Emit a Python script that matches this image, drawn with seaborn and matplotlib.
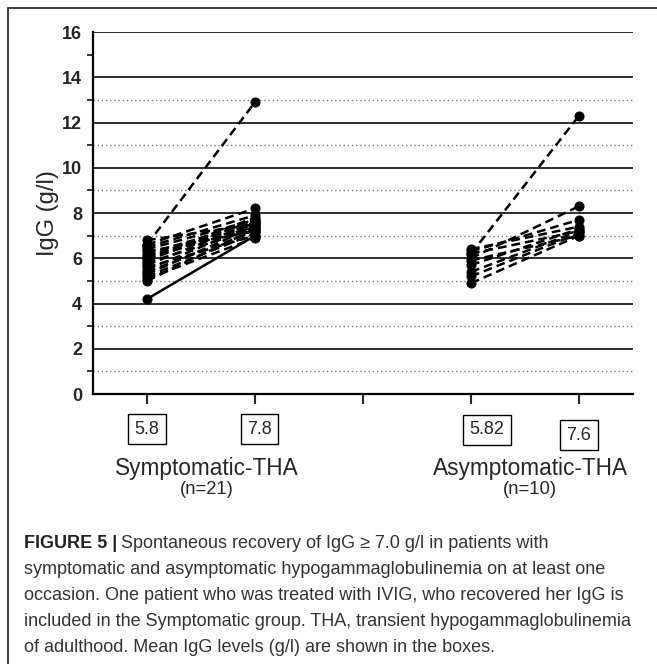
import numpy as np
import pandas as pd
import matplotlib
matplotlib.use("Agg")
import matplotlib.pyplot as plt
import matplotlib.transforms as mtransforms
import seaborn as sns

# IgG (g/l) at first and recovery visit, one pair per patient
sym_start = [4.2, 5.0, 5.1, 5.2, 5.3, 5.4, 5.5, 5.6, 5.7, 5.8, 5.9,
             6.0, 6.0, 6.1, 6.2, 6.3, 6.4, 6.5, 6.6, 6.8, 6.6]
sym_end = [7.0, 7.3, 6.9, 7.1, 7.4, 7.2, 7.5, 7.0, 7.6, 7.3, 7.7,
           7.4, 7.8, 7.5, 7.6, 7.2, 7.7, 7.9, 8.2, 7.5, 12.9]
asym_start = [4.9, 5.2, 5.4, 5.7, 5.9, 6.0, 6.2, 6.3, 6.4, 6.2]
asym_end = [7.0, 7.1, 7.2, 7.3, 7.0, 8.3, 7.2, 7.7, 7.4, 12.3]

group_names = ["Symptomatic-THA", "Asymptomatic-THA"]
group_n = ["(n=21)", "(n=10)"]
group_pos = [(1, 2), (4, 5)]
mean_labels = [("5.8", "7.8"), ("5.82", "7.6")]

# long table for seaborn
rows = []
pid = 0
for (starts, ends), (x0, x1) in zip([(sym_start, sym_end), (asym_start, asym_end)], group_pos):
    for s, e in zip(starts, ends):
        kind = "solid" if s < 4.5 else "dashed"
        rows.append({"patient": pid, "x": x0, "igg": s, "kind": kind})
        rows.append({"patient": pid, "x": x1, "igg": e, "kind": kind})
        pid += 1
df = pd.DataFrame(rows)

sns.set_style("white")
plt.rcParams['font.family'] = ['Liberation Sans', 'DejaVu Sans']

fig = plt.figure(figsize=(6.57, 6.64), dpi=100)
ax = fig.add_axes([0.1416, 0.4066, 0.8219, 0.5452])

# grid lines
for v in range(2, 17, 2):
    ax.axhline(v, color="#2e2e2e", lw=1.4, zorder=0)
for v in range(1, 14, 2):
    ax.axhline(v, color="#777777", lw=1.0, ls=(0, (1, 2)), zorder=0)

sns.lineplot(data=df, x="x", y="igg", units="patient", estimator=None,
             style="kind", dashes={"dashed": (3.5, 2), "solid": ""},
             color="black", lw=1.8, marker="o", markersize=6.5,
             markeredgecolor="black", legend=False, ax=ax)

ax.set_xlim(0.5, 5.5)
ax.set_ylim(0, 16)
ax.set_xticks([1, 2, 3, 4, 5])
ax.set_xticklabels([])
ax.set_yticks(range(0, 17, 2))
ax.set_yticks(range(1, 16, 2), minor=True)
ax.tick_params(axis="y", which="major", length=7, width=1.5, labelsize=13, pad=1)
ax.tick_params(axis="y", which="minor", length=4, width=1.3, left=True)
ax.tick_params(axis="x", length=7, width=1.5, bottom=True)
for lab in ax.get_yticklabels():
    lab.set_fontweight("bold")
ax.set_xlabel("")
ax.set_ylabel("IgG (g/l)", fontsize=17, labelpad=2)
for side in ["top", "right"]:
    ax.spines[side].set_visible(False)
for side in ["left", "bottom"]:
    ax.spines[side].set_color("black")
    ax.spines[side].set_linewidth(1.6)

# mean boxes and group labels
trans = mtransforms.blended_transform_factory(ax.transData, fig.transFigure)
box_offsets = [(0.0, 0.04), (0.15, 0.0)]
box_y = [(1 - 429 / 664, 1 - 429 / 664), (1 - 430 / 664, 1 - 435 / 664)]
for (x0, x1), (m0, m1), (o0, o1), (y0, y1), name, n in zip(
        group_pos, mean_labels, box_offsets, box_y, group_names, group_n):
    for xx, lab, yy in [(x0 + o0, m0, y0), (x1 + o1, m1, y1)]:
        ax.text(xx, yy, lab, transform=trans, ha="center", va="center",
                fontsize=13, clip_on=False,
                bbox=dict(boxstyle="square,pad=0.35", fc="white", ec="black", lw=1))
    xc = (x0 + x1) / 2 + 0.05
    ax.text(xc, 1 - 468 / 664, name, transform=trans, ha="center", va="center",
            fontsize=16.3, clip_on=False)
    ax.text(xc, 1 - 490 / 664, n, transform=trans, ha="center", va="center",
            fontsize=13.3, clip_on=False)

# outer frame (left and top edges)
fig.add_artist(plt.Line2D([8 / 657, 8 / 657], [0, 1 - 8 / 664], transform=fig.transFigure,
                          color="#444444", lw=1.5))
fig.add_artist(plt.Line2D([8 / 657, 1], [1 - 8 / 664, 1 - 8 / 664], transform=fig.transFigure,
                          color="#444444", lw=1.5))

# caption
cap_lines = [
    "symptomatic and asymptomatic hypogammaglobulinemia on at least one",
    "occasion. One patient who was treated with IVIG, who recovered her IgG is",
    "included in the Symptomatic group. THA, transient hypogammaglobulinemia",
    "of adulthood. Mean IgG levels (g/l) are shown in the boxes.",
]
cap_x = 24 / 657
t = fig.text(cap_x, 1 - 543 / 664, "FIGURE 5 |", fontsize=13, fontweight="bold",
             color="#222222", va="center")
fig.canvas.draw()
bb = t.get_window_extent()
fig.text(bb.x1 / fig.bbox.width + 4 / 657, 1 - 543 / 664,
         "Spontaneous recovery of IgG \u2265 7.0 g/l in patients with",
         fontsize=13, color="#333333", va="center")
for i, line in enumerate(cap_lines):
    fig.text(cap_x, 1 - (569 + 26 * i) / 664, line, fontsize=13,
             color="#333333", va="center")

fig.savefig("out.png", dpi=100)
